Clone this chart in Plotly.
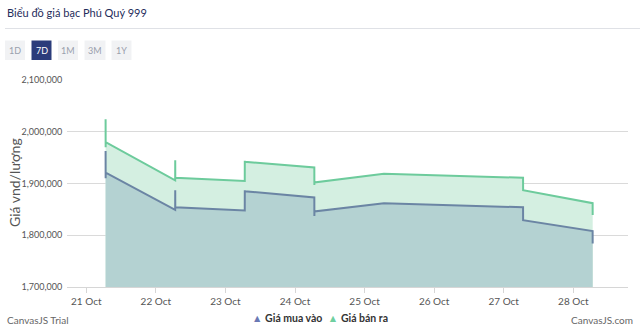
import plotly.graph_objects as go

# Price update timestamps (several updates a few minutes apart on some mornings)
times = [
    "2024-10-21 06:40", "2024-10-21 06:41", "2024-10-21 06:42",
    "2024-10-22 06:40", "2024-10-22 06:41", "2024-10-22 06:42",
    "2024-10-23 06:40", "2024-10-23 06:41", "2024-10-23 06:42",
    "2024-10-24 06:40", "2024-10-24 06:41", "2024-10-24 06:42",
    "2024-10-25 06:40",
    "2024-10-26 06:40",
    "2024-10-27 06:40", "2024-10-27 06:41",
    "2024-10-28 06:40", "2024-10-28 06:41",
]

# Selling price (Giá bán ra), VND per lượng
sell_price = [
    2024000, 1970000, 1980000,
    1906000, 1945000, 1911000,
    1905000, 1944000, 1942000,
    1931000, 1897000, 1902000,
    1919000,
    1915000,
    1911000, 1887000,
    1862000, 1839000,
]

# Buying price (Giá mua vào), VND per lượng
buy_price = [
    1963000, 1910000, 1921000,
    1849000, 1887000, 1854000,
    1848000, 1887000, 1885000,
    1873000, 1837000, 1846000,
    1862000,
    1858000,
    1854000, 1829000,
    1808000, 1784000,
]

y_ticks = [1700000, 1800000, 1900000, 2000000, 2100000]
y_tick_labels = ["1,700,000", "1,800,000", "1,900,000", "2,000,000", "2,100,000"]

range_buttons = ["1D", "7D", "1M", "3M", "1Y"]
active_button = "7D"

SELL_LINE = "#6dcb9c"
SELL_FILL = "#d4efe1"
BUY_LINE = "#6b85a4"
BUY_FILL = "#b4d2d2"
FONT = "Lato, 'Open Sans', sans-serif"

# Plot-area geometry in pixels (used to place header/footer items)
L, R, T, B = 67, 12, 80, 45
W, H = 640, 332
PW, PH = W - L - R, H - T - B


def px(x):
    return (x - L) / PW


def py(y):
    return (H - B - y) / PH


fig = go.Figure()

fig.add_trace(go.Scatter(
    x=times, y=sell_price, mode="lines", name="Giá bán ra",
    line=dict(color=SELL_LINE, width=2),
    fill="tozeroy", fillcolor=SELL_FILL, hoverinfo="skip",
))
fig.add_trace(go.Scatter(
    x=times, y=buy_price, mode="lines", name="Giá mua vào",
    line=dict(color=BUY_LINE, width=2),
    fill="tozeroy", fillcolor=BUY_FILL, hoverinfo="skip",
))

fig.update_layout(
    width=W, height=H,
    margin=dict(l=L, r=R, t=T, b=B, autoexpand=False),
    paper_bgcolor="white", plot_bgcolor="white",
    showlegend=False,
    font=dict(family=FONT, size=10, color="#555"),
)

fig.update_xaxes(
    type="date",
    range=["2024-10-20 17:21", "2024-10-28 18:52"],
    tick0="2024-10-21", dtick=86400000,
    tickformat="%d %b",
    showgrid=False,
    showline=True, linecolor="#d6d6d6", linewidth=1,
    ticks="outside", ticklen=5, tickcolor="#d6d6d6",
    tickfont=dict(size=10, color="#555"),
    zeroline=False, automargin=False,
)
fig.update_yaxes(
    range=[1700000, 2100000],
    tickvals=y_ticks, ticktext=y_tick_labels,
    showgrid=True, gridcolor="#dadada", gridwidth=1,
    ticks="outside", ticklen=2, tickcolor="rgba(0,0,0,0)",
    tickfont=dict(size=9, color="#555"),
    zeroline=False, showline=False, automargin=False,
)

# Y-axis title
fig.add_annotation(
    xref="paper", yref="paper", x=px(14), y=py(183),
    xanchor="center", yanchor="middle", showarrow=False, textangle=-90,
    text="Giá vnd/lượng", font=dict(size=14, color="#555", family=FONT),
)

# Header: title and divider
fig.add_annotation(
    xref="paper", yref="paper", x=px(5), y=py(12),
    xanchor="left", yanchor="middle", showarrow=False,
    text="Biểu đồ giá bạc Phú Quý 999",
    font=dict(size=11, color="#1f2d5c", family=FONT),
)
fig.add_shape(
    type="line", xref="paper", yref="paper",
    x0=px(5), x1=px(W), y0=py(28.5), y1=py(28.5),
    line=dict(color="#dfe1e6", width=1),
)

# Time-range buttons
button_left = [5, 31.5, 58, 84.5, 111.5]
button_width = [20, 20, 20, 21, 20]
for label, bx, bw in zip(range_buttons, button_left, button_width):
    active = label == active_button
    x0, x1 = px(bx), px(bx + bw)
    y0, y1 = py(60), py(40.5)
    fig.add_shape(
        type="rect", xref="paper", yref="paper",
        x0=x0, x1=x1, y0=y0, y1=y1,
        fillcolor="#2b3c7b" if active else "#f1f2f4",
        line=dict(width=0), layer="above",
    )
    fig.add_annotation(
        xref="paper", yref="paper", x=(x0 + x1) / 2, y=(y0 + y1) / 2,
        xanchor="center", yanchor="middle", showarrow=False,
        text=label,
        font=dict(size=9, color="white" if active else "#9aa0ad", family=FONT),
    )

# Legend with triangle markers
fig.add_annotation(
    xref="paper", yref="paper", x=px(320), y=py(318),
    xanchor="center", yanchor="middle", showarrow=False,
    text=("<span style='color:#6a79b4'>▲</span> <b>Giá mua vào</b>  "
          "<span style='color:#6fcfa0'>▲</span> <b>Giá bán ra</b>"),
    font=dict(size=10.5, color="#333", family=FONT),
)

# Footer credits
fig.add_annotation(
    xref="paper", yref="paper", x=px(5), y=py(320),
    xanchor="left", yanchor="middle", showarrow=False,
    text="CanvasJS Trial", font=dict(size=10, color="#666", family=FONT),
)
fig.add_annotation(
    xref="paper", yref="paper", x=px(635), y=py(320),
    xanchor="right", yanchor="middle", showarrow=False,
    text="CanvasJS.com", font=dict(size=10, color="#666", family=FONT),
)

fig.write_html("out.html")
